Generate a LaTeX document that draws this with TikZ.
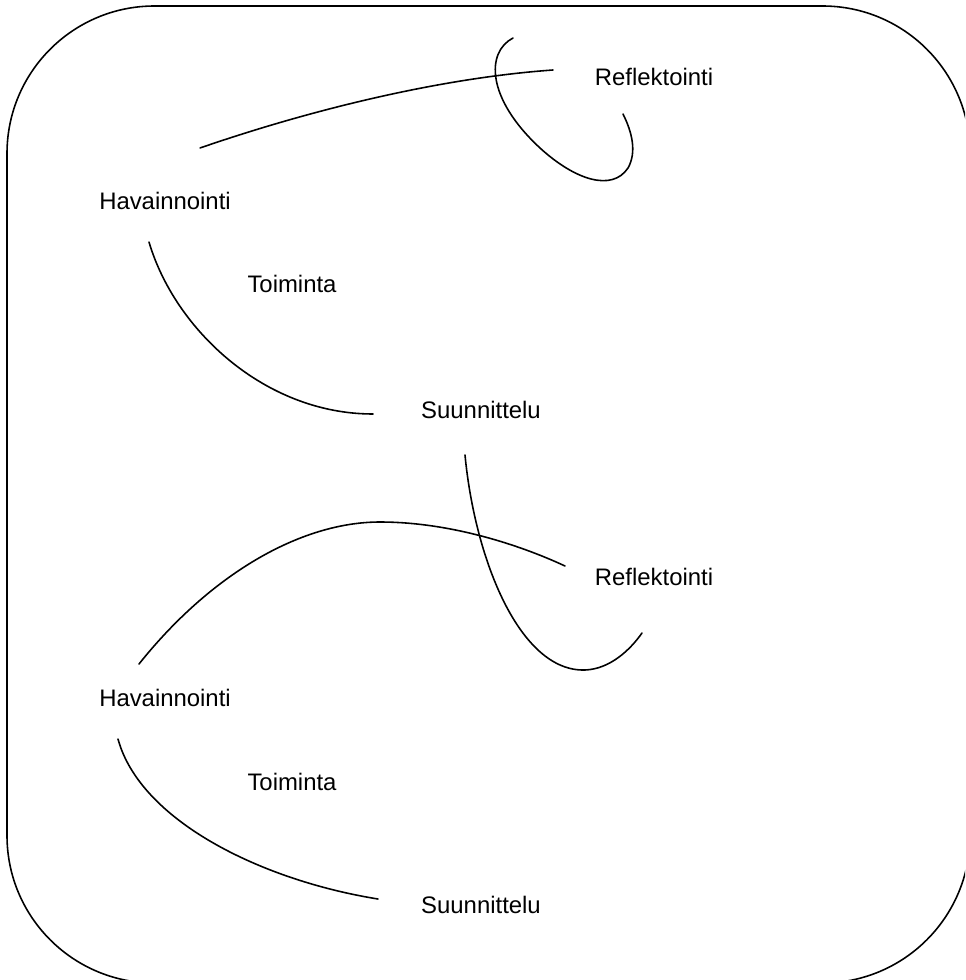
\documentclass[tikz,border=0pt]{standalone}
\usepackage{fontspec}
\setmainfont{Liberation Sans}
\begin{document}
\begin{tikzpicture}[x=0.02cm,y=-0.02cm,
  lbl/.style={font=\fontsize{13.6}{16}\selectfont, inner sep=0pt},
  curve/.style={line width=0.9pt, line cap=round}]
\useasboundingbox (0,0) rectangle (965,980);
\begin{scope}
\clip (0,0) rectangle (965,980);
\draw[line width=0.9pt, rounded corners=2.95cm] (7,6) rectangle (970,983);
\end{scope}
% labels
\node[lbl] (r1) at (654,77) {Reflektointi};
\node[lbl] (h1) at (165,201) {Havainnointi};
\node[lbl] (t1) at (292,284) {Toiminta};
\node[lbl] (s1) at (481,410) {Suunnittelu};
\node[lbl] (r2) at (654,577) {Reflektointi};
\node[lbl] (h2) at (165,698) {Havainnointi};
\node[lbl] (t2) at (292,782) {Toiminta};
\node[lbl] (s2) at (481,905) {Suunnittelu};
% curve end points
\coordinate (a1) at (200,148);
\coordinate (a2) at (553,70);
\coordinate (b1) at (513,38);
\coordinate (b2) at (623,114);
\coordinate (c1) at (149,242);
\coordinate (c2) at (373,414);
\coordinate (d1) at (465,455);
\coordinate (d2) at (642,633);
\coordinate (e1) at (139,664);
\coordinate (e2) at (565,566);
\coordinate (f1) at (118,739);
\coordinate (f2) at (378,899);
% connectors
\draw[curve] (a1) .. controls (310,110) and (440,78) .. (a2);
\draw[curve] (b1) .. controls (486,52) and (486,98) .. (540,148)
  .. controls (575,180) and (612,192) .. (628,168)
  .. controls (637,152) and (632,132) .. (b2);
\draw[curve] (c1) .. controls (175,330) and (265,414) .. (c2);
\draw[curve] (d1) .. controls (475,560) and (520,672) .. (585,670)
  .. controls (610,669) and (630,650) .. (d2);
\draw[curve] (e1) .. controls (210,575) and (300,522) .. (380,522)
  .. controls (450,522) and (520,545) .. (e2);
\draw[curve] (f1) .. controls (140,820) and (260,880) .. (f2);
\end{tikzpicture}
\end{document}
